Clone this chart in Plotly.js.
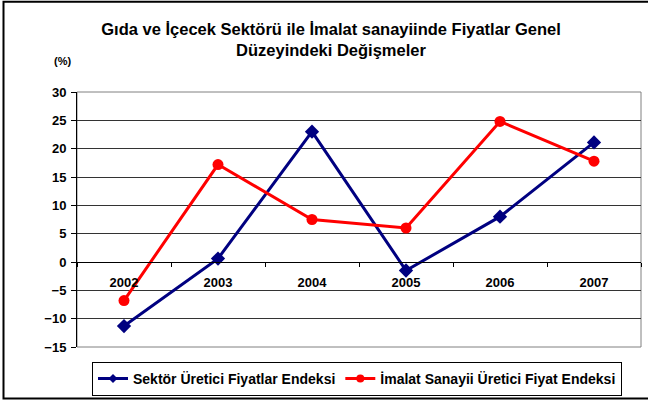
<!DOCTYPE html>
<html>
<head>
<meta charset="utf-8">
<script src="https://cdn.plot.ly/plotly-3.0.1.min.js"></script>
<style>
html,body{margin:0;padding:0;background:#fff;}
#chart{width:648px;height:403px;}
</style>
</head>
<body>
<div id="chart"></div>
<script>
const years = ['2002','2003','2004','2005','2006','2007'];
const sektorValues = [-11.3, 0.6, 23.0, -1.5, 8.0, 21.1];
const imalatValues = [-6.8, 17.2, 7.5, 6.0, 24.8, 17.8];
const seriesNames = ['Sektör Üretici Fiyatlar Endeksi', 'İmalat Sanayii Üretici Fiyat Endeksi'];
const seriesColors = ['#000080', '#FF0000'];
const yTicks = [-15, -10, -5, 0, 5, 10, 15, 20, 25, 30];

const W = 648, H = 403;
const M = {l: 77, r: 7, t: 92, b: 54};
const PW = W - M.l - M.r, PH = H - M.t - M.b;
const px = x => (x - M.l) / PW;
const py = y => (H - M.b - y) / PH;

const FAMILY = 'Liberation Sans, Arial, sans-serif';
const FONT = {family: FAMILY, size: 13, color: '#000', weight: 'bold'};

const traces = [
  {
    x: years, y: sektorValues, name: seriesNames[0], type: 'scatter', mode: 'lines+markers',
    line: {color: seriesColors[0], width: 3},
    marker: {symbol: 'diamond', size: 11, color: seriesColors[0]},
    showlegend: false
  },
  {
    x: years, y: imalatValues, name: seriesNames[1], type: 'scatter', mode: 'lines+markers',
    line: {color: seriesColors[1], width: 3},
    marker: {symbol: 'circle', size: 11, color: seriesColors[1]},
    showlegend: false
  },
  // legend-only entries (smaller legend markers, as in the reference)
  {
    x: [null], y: [null], name: seriesNames[0], type: 'scatter', mode: 'lines+markers',
    line: {color: seriesColors[0], width: 3},
    marker: {symbol: 'diamond', size: 7, color: seriesColors[0]}
  },
  {
    x: [null], y: [null], name: seriesNames[1], type: 'scatter', mode: 'lines+markers',
    line: {color: seriesColors[1], width: 3},
    marker: {symbol: 'circle', size: 8, color: seriesColors[1]}
  }
];

const layout = {
  width: W, height: H,
  margin: M,
  paper_bgcolor: '#fff', plot_bgcolor: '#fff',
  font: FONT,
  showlegend: true,
  title: {
    text: 'Gıda ve İçecek Sektörü ile İmalat sanayiinde Fiyatlar Genel<br>Düzeyindeki Değişmeler',
    font: {family: FAMILY, size: 16.5, color: '#000', weight: 'bold'},
    x: 331 / W, xanchor: 'center', xref: 'container',
    y: 1 - 35 / H, yanchor: 'top', yref: 'container'
  },
  xaxis: {
    type: 'category',
    range: [-0.5, 5.5],
    anchor: 'free', position: 1 / 3,
    showline: true, linecolor: '#000', linewidth: 1,
    ticks: 'outside', ticklen: 4, tickcolor: '#000', tickson: 'boundaries',
    ticklabelstandoff: 8,
    showgrid: false, zeroline: false,
    tickfont: {family: FAMILY, size: 13, color: '#000', weight: 'bold'},
    fixedrange: true
  },
  yaxis: {
    range: [-15, 30],
    tickvals: yTicks,
    showline: true, linecolor: '#000', linewidth: 1,
    ticks: 'outside', ticklen: 5, tickcolor: '#000',
    ticklabelstandoff: 2,
    showgrid: true, gridcolor: '#333', gridwidth: 1,
    zeroline: false,
    tickfont: {family: FAMILY, size: 13, color: '#000', weight: 'bold'},
    fixedrange: true
  },
  legend: {
    orientation: 'h',
    x: px(357), xanchor: 'center', xref: 'paper',
    y: py(364), yanchor: 'top', yref: 'paper',
    bordercolor: '#000', borderwidth: 1, bgcolor: '#fff',
    font: {family: FAMILY, size: 14, color: '#000', weight: 'bold'},
    itemwidth: 30, tracegroupgap: 0
  },
  shapes: [
    {type: 'rect', xref: 'paper', yref: 'paper', x0: 0, x1: 1, y0: 0, y1: 1,
     line: {color: '#808080', width: 1}, fillcolor: 'rgba(0,0,0,0)', layer: 'below'},
    {type: 'rect', xref: 'paper', yref: 'paper', x0: px(3.5), x1: px(660), y0: py(1), y1: py(401),
     line: {color: '#000', width: 2}, fillcolor: 'rgba(0,0,0,0)', layer: 'above'}
  ],
  annotations: [
    {text: '(%)', xref: 'paper', yref: 'paper', x: px(62), y: py(61), xanchor: 'center', yanchor: 'middle',
     showarrow: false, font: {family: FAMILY, size: 11, color: '#000', weight: 'bold'}}
  ]
};

Plotly.newPlot('chart', traces, layout, {displayModeBar: false, staticPlot: true});
</script>
</body>
</html>
